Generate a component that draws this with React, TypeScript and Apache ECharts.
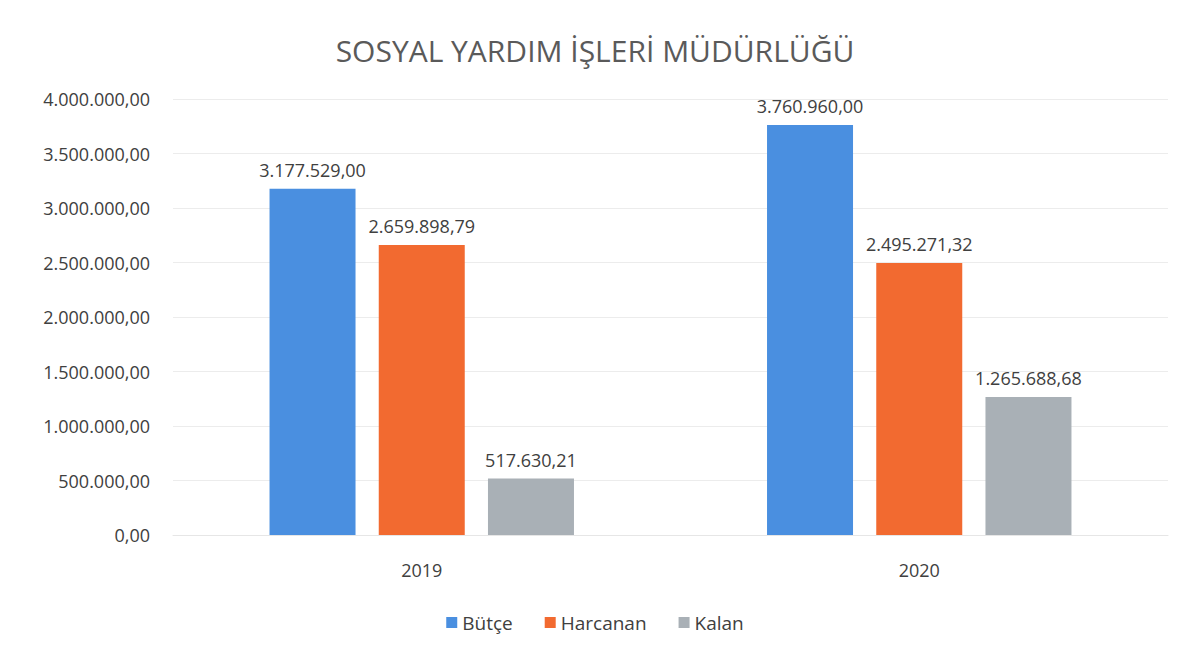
import React, { useEffect, useRef } from "react";
import * as echarts from "echarts";

const categories = ["2019", "2020"];
const butce = [3177529.0, 3760960.0];
const harcanan = [2659898.79, 2495271.32];
const kalan = [517630.21, 1265688.68];
const seriesNames = ["Bütçe", "Harcanan", "Kalan"];
const yTicks = { min: 0, max: 4000000, interval: 500000 };

function trFormat(v: number): string {
  const fixed = Math.abs(v).toFixed(2);
  const [intPart, dec] = fixed.split(".");
  const withDots = intPart.replace(/\B(?=(\d{3})+(?!\d))/g, ".");
  return (v < 0 ? "-" : "") + withDots + "," + dec;
}

export default function App() {
  const ref = useRef<HTMLDivElement>(null);
  useEffect(() => {
    document.body.style.margin = "0";
    const chart = echarts.init(ref.current!, null, { renderer: "svg" });
    const font = "'Open Sans', 'Noto Sans', sans-serif";
    const colors = ["#4a8fe0", "#f26a30", "#a9b0b6"];
    const data = [butce, harcanan, kalan];
    chart.setOption({
      animation: false,
      backgroundColor: "#ffffff",
      title: {
        text: "SOSYAL YARDIM İŞLERİ MÜDÜRLÜĞÜ",
        left: "center",
        top: 30,
        textStyle: { fontFamily: font, fontSize: 30, fontWeight: "normal", color: "#5a5a5a" },
      },
      legend: {
        bottom: 23,
        left: "center",
        itemWidth: 11,
        itemHeight: 11,
        itemGap: 32,
        icon: "rect",
        textStyle: { fontFamily: font, fontSize: 19, color: "#404040" },
        data: seriesNames,
      },
      grid: { left: 173, right: 22, top: 99, bottom: 125 },
      xAxis: {
        type: "category",
        data: categories,
        axisLine: { show: true, lineStyle: { color: "#e6e6e6" } },
        axisTick: { show: false },
        axisLabel: { fontFamily: font, fontSize: 18, color: "#404040", margin: 26 },
      },
      yAxis: {
        type: "value",
        min: yTicks.min,
        max: yTicks.max,
        interval: yTicks.interval,
        axisLine: { show: false },
        axisTick: { show: false },
        splitLine: { lineStyle: { color: "#ececec" } },
        axisLabel: {
          fontFamily: font,
          fontSize: 18,
          color: "#404040",
          margin: 23,
          formatter: (v: number) => trFormat(v),
        },
      },
      series: seriesNames.map((name, i) => ({
        name,
        type: "bar",
        data: data[i],
        barWidth: 86,
        barGap: "27%",
        itemStyle: { color: colors[i] },
        label: {
          show: true,
          position: "top",
          distance: 10,
          fontFamily: font,
          fontSize: 18,
          color: "#404040",
          formatter: (p: any) => trFormat(p.value),
        },
      })),
    });
    return () => chart.dispose();
  }, []);
  return <div ref={ref} style={{ width: 1190, height: 660 }} />;
}
